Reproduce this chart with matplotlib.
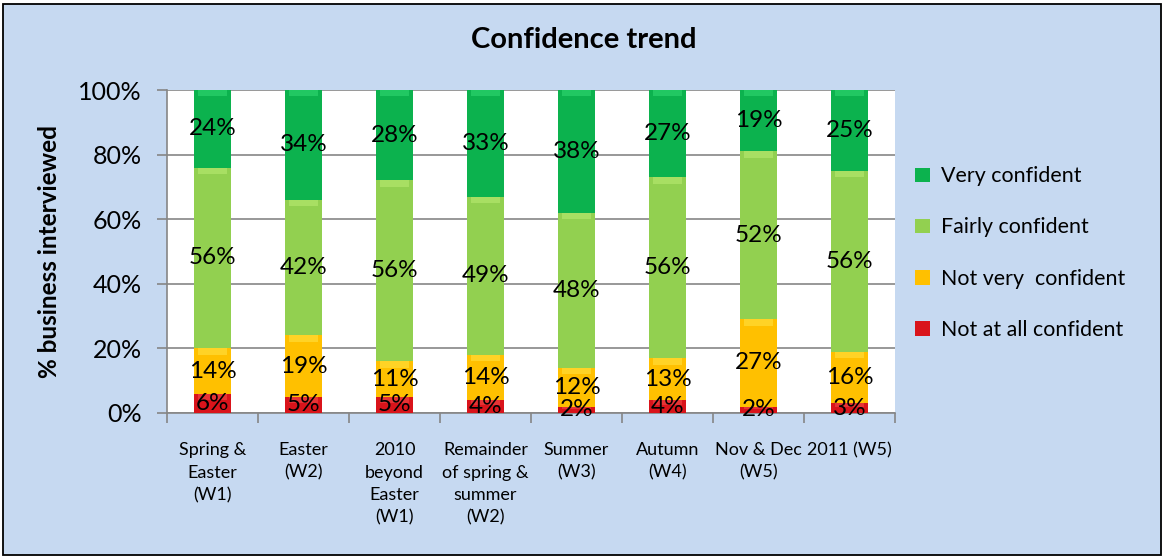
import matplotlib
matplotlib.use("Agg")
import matplotlib.pyplot as plt
from matplotlib.patches import Rectangle, Patch
from matplotlib.ticker import FixedLocator, PercentFormatter
import numpy as np

categories = ["Spring &\nEaster\n(W1)", "Easter\n(W2)", "2010\nbeyond\nEaster\n(W1)",
              "Remainder\nof spring &\nsummer\n(W2)", "Summer\n(W3)", "Autumn\n(W4)",
              "Nov & Dec\n(W5)", "2011 (W5)"]
not_at_all = [6, 5, 5, 4, 2, 4, 2, 3]
not_very = [14, 19, 11, 14, 12, 13, 27, 16]
fairly = [56, 42, 56, 49, 48, 56, 52, 56]
very = [24, 34, 28, 33, 38, 27, 19, 25]
series_names = ["Not at all confident", "Not very  confident", "Fairly confident", "Very confident"]
colors = ["#D9141B", "#FFC000", "#92D050", "#0CB24E"]
highlights = ["#F04848", "#FFE040", "#B8EA70", "#30D870"]

plt.rcParams['font.family'] = ['Lato', 'DejaVu Sans']

fig = plt.figure(figsize=(11.68, 5.6), dpi=100, facecolor='white')
fig.patches.append(Rectangle((3/1168, 5/560), 1158/1168, 551/560, transform=fig.transFigure,
                             facecolor='#C6D9F1', edgecolor='black', linewidth=1.3, zorder=-10))

ax = fig.add_axes([167/1168, 1-413/560, 728/1168, 323/560])
ax.set_facecolor('white')

x = np.arange(len(categories))
width = 0.41
bottom = np.zeros(len(categories))
for vals, col, hl, name in zip([not_at_all, not_very, fairly, very], colors, highlights, series_names):
    v = np.array(vals, dtype=float)
    ax.bar(x, v, width, bottom=bottom, color=col, edgecolor='none', zorder=3, label=name)
    band = np.minimum(v * 0.35, 2.0)
    ax.bar(x, band, width * 0.8, bottom=bottom + v - band, color=hl, edgecolor='none', zorder=4, alpha=0.6)
    for xi, b, h in zip(x, bottom, v):
        ax.text(xi, b + h / 2, f"{int(h)}%", ha='center', va='center', fontsize=17.5, zorder=5, color='black')
    bottom += v

ax.set_xlim(-0.5, len(categories) - 0.5)
ax.set_ylim(0, 100)
ax.yaxis.set_major_locator(FixedLocator([0, 20, 40, 60, 80, 100]))
ax.yaxis.set_major_formatter(PercentFormatter(decimals=0))
ax.grid(axis='y', color='#868686', linewidth=1.2, zorder=0)
ax.tick_params(axis='y', labelsize=18, length=7, color='#868686', pad=11, width=1.2)
ax.set_xticks(x)
ax.set_xticklabels(categories, fontsize=13, linespacing=1.5)
ax.tick_params(axis='x', length=0, pad=21)
ax.set_xticks(np.arange(len(categories) + 1) - 0.5, minor=True)
ax.tick_params(axis='x', which='minor', length=7, color='#868686', width=1.2)
for s in ['top', 'right']:
    ax.spines[s].set_visible(False)
for s in ['left', 'bottom']:
    ax.spines[s].set_color('#868686')
    ax.spines[s].set_linewidth(1.2)

fig.text(584/1168, 1-40/560, "Confidence trend", ha='center', va='center', fontsize=21, fontweight='bold')
fig.text(50/1168, 1-252/560, "% business interviewed", ha='center', va='center', rotation=90,
         fontsize=17.5, fontweight='bold')

handles = [Patch(facecolor=c, edgecolor='none') for c in colors[::-1]]
fig.legend(handles, series_names[::-1], loc='center left', bbox_to_anchor=(896/1168, 1-253/560),
           frameon=False, fontsize=15.4, handlelength=0.7, handleheight=0.7, handletextpad=0.5,
           labelspacing=1.45)

fig.savefig("out.png", dpi=100, facecolor='white')
